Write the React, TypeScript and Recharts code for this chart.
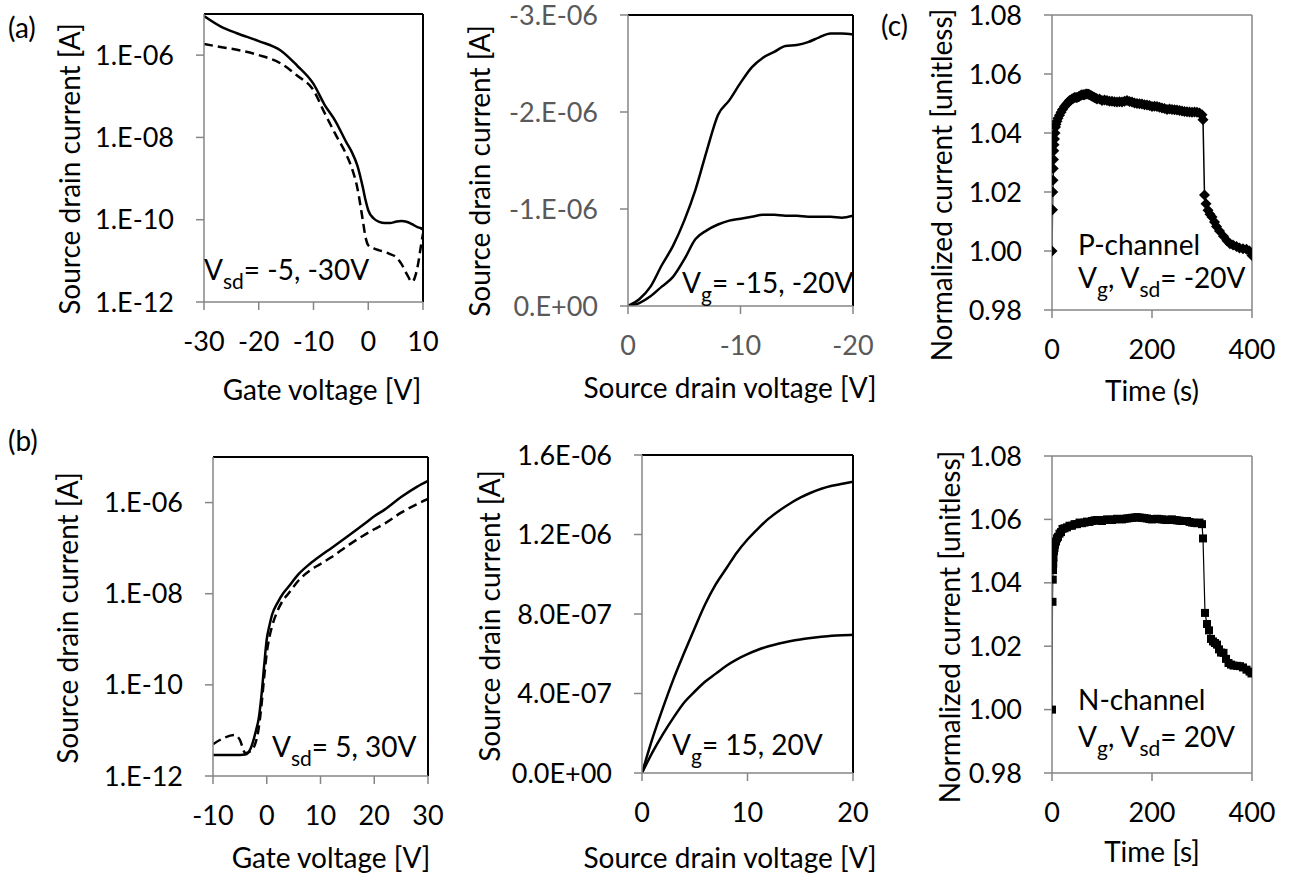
import React from "react";
import { Line, LineChart, ReferenceLine, XAxis, YAxis } from "recharts";

// (a) p-channel transfer curve, current in A (log axis)
const aGate = [-30, -27, -24, -20, -16, -13, -10, -8, -6, -4, -3, -2, -1, -0.5, 0, 1, 2, 3, 4, 5, 6, 7, 8, 9, 9.6, 10];
const aVsd30 = [8.9e-6, 5.0e-6, 3.4e-6, 2.2e-6, 1.3e-6, 5.6e-7, 2.0e-7, 6.3e-8, 2.5e-8, 7.6e-9, 4.4e-9, 2.1e-9, 6.2e-10, 3.0e-10, 1.7e-10, 1.07e-10, 8.9e-11, 8.3e-11, 8.3e-11, 8.9e-11, 9.3e-11, 8.9e-11, 7.8e-11, 6.6e-11, 6.2e-11, 5.8e-11];
const aVsd5 = [1.86e-6, 1.58e-6, 1.35e-6, 1.0e-6, 6.3e-7, 3.2e-7, 1.4e-7, 4.0e-8, 1.2e-8, 3.8e-9, 1.8e-9, 6.0e-10, 9.8e-11, 3.8e-11, 2.4e-11, 2.0e-11, 1.8e-11, 1.66e-11, 1.45e-11, 1.26e-11, 8.7e-12, 4.9e-12, 3.1e-12, 7.1e-12, 2.2e-11, 4.6e-11];

// (a) p-channel output curves
const aDrainV = [0, -1, -2, -3, -4, -5, -6, -7, -8, -9, -10, -11, -12, -13, -14, -15, -16, -17, -18, -19, -20];
const aVg20 = [0, -0.07e-6, -0.2e-6, -0.42e-6, -0.62e-6, -0.88e-6, -1.2e-6, -1.6e-6, -1.97e-6, -2.12e-6, -2.3e-6, -2.46e-6, -2.56e-6, -2.62e-6, -2.68e-6, -2.69e-6, -2.72e-6, -2.77e-6, -2.81e-6, -2.81e-6, -2.8e-6];
const aVg15 = [0, -0.03e-6, -0.1e-6, -0.2e-6, -0.3e-6, -0.48e-6, -0.69e-6, -0.78e-6, -0.84e-6, -0.88e-6, -0.9e-6, -0.92e-6, -0.94e-6, -0.94e-6, -0.93e-6, -0.93e-6, -0.92e-6, -0.92e-6, -0.92e-6, -0.91e-6, -0.93e-6];

// (b) n-channel transfer curve
const bGate = [-10, -8, -6, -5, -4, -3, -2, -1.5, -1, -0.5, 0, 0.5, 1, 2, 3, 4, 6, 8, 10, 12, 15, 18, 20, 22, 25, 28, 30];
const bVsd30 = [2.9e-12, 2.9e-12, 2.9e-12, 2.9e-12, 2.95e-12, 4.0e-12, 1.0e-11, 1.8e-11, 5.6e-11, 2.5e-10, 1.0e-9, 2.0e-9, 3.5e-9, 6.3e-9, 1.0e-8, 1.4e-8, 2.75e-8, 4.5e-8, 6.8e-8, 1.0e-7, 1.8e-7, 3.3e-7, 5.0e-7, 7.1e-7, 1.32e-6, 2.24e-6, 3.0e-6];
const bVsd5 = [5.0e-12, 6.8e-12, 7.9e-12, 6.2e-12, 3.2e-12, 3.5e-12, 5.8e-12, 1.12e-11, 3.4e-11, 1.4e-10, 5.0e-10, 1.12e-9, 1.95e-9, 4.2e-9, 7.1e-9, 1.0e-8, 2.0e-8, 3.2e-8, 4.5e-8, 6.3e-8, 1.12e-7, 1.9e-7, 2.6e-7, 3.5e-7, 6.0e-7, 9.3e-7, 1.2e-6];

// (b) n-channel output curves
const bDrainV = [0, 1, 2, 3, 4, 5, 6, 7, 8, 9, 10, 11, 12, 13, 14, 15, 16, 17, 18, 19, 20];
const bVg20 = [0, 1.75e-7, 3.3e-7, 4.75e-7, 6.05e-7, 7.3e-7, 8.5e-7, 9.5e-7, 10.3e-7, 11.1e-7, 11.75e-7, 12.3e-7, 12.8e-7, 13.2e-7, 13.55e-7, 13.85e-7, 14.1e-7, 14.3e-7, 14.45e-7, 14.55e-7, 14.65e-7];
const bVg15 = [0, 1.05e-7, 1.97e-7, 2.8e-7, 3.55e-7, 4.1e-7, 4.6e-7, 5.0e-7, 5.4e-7, 5.72e-7, 5.98e-7, 6.2e-7, 6.38e-7, 6.52e-7, 6.63e-7, 6.72e-7, 6.79e-7, 6.85e-7, 6.9e-7, 6.93e-7, 6.95e-7];

// (c) normalized current vs time, P-channel
const pTime = [0, 1, 1.5, 2, 2.5, 3, 3.5, 4, 5, 6, 7, 8, 10, 12, 15, 18, 21, 25, 28, 30, 33, 35, 38, 40, 43, 45, 48, 50, 53, 55, 58, 60, 63, 65, 68, 70, 73, 75, 78, 80, 83, 85, 88, 90, 95, 100, 105, 110, 115, 120, 125, 130, 135, 140, 145, 150, 155, 160, 165, 170, 175, 180, 185, 190, 195, 200, 205, 210, 215, 220, 225, 230, 235, 240, 245, 250, 255, 260, 265, 270, 275, 280, 285, 290, 295, 300, 302, 305, 308, 312, 316, 320, 325, 329, 335, 343, 350, 356, 362, 369, 375, 382, 389, 395, 400];
const pCurrent = [1.0, 1.014, 1.02, 1.024, 1.028, 1.031, 1.034, 1.036, 1.038, 1.04, 1.042, 1.043, 1.044, 1.045, 1.046, 1.047, 1.048, 1.049, 1.0495, 1.05, 1.0505, 1.051, 1.0512, 1.0515, 1.0518, 1.052, 1.052, 1.052, 1.0523, 1.0525, 1.0528, 1.053, 1.053, 1.053, 1.0532, 1.0532, 1.0531, 1.053, 1.0527, 1.0525, 1.0522, 1.052, 1.0518, 1.0515, 1.0515, 1.051, 1.0512, 1.051, 1.0508, 1.0508, 1.0506, 1.0505, 1.0506, 1.0505, 1.0508, 1.051, 1.0507, 1.0505, 1.0502, 1.05, 1.0499, 1.0498, 1.0496, 1.0495, 1.0493, 1.049, 1.0491, 1.049, 1.0487, 1.0485, 1.0483, 1.048, 1.0481, 1.048, 1.0479, 1.0478, 1.0476, 1.0475, 1.0473, 1.0472, 1.0471, 1.047, 1.0471, 1.047, 1.0468, 1.0462, 1.0445, 1.019, 1.016, 1.0138, 1.0125, 1.0115, 1.0098, 1.0083, 1.0068, 1.005, 1.0035, 1.0025, 1.002, 1.0015, 1.001, 1.0008, 1.0006, 1.0, 0.9985];

// (c) normalized current vs time, N-channel
const nTime = [0, 1, 1.5, 2, 2.5, 3, 4, 5, 6, 8, 10, 12, 15, 18, 21, 25, 30, 35, 40, 45, 50, 55, 60, 65, 70, 75, 80, 85, 90, 95, 100, 105, 110, 115, 120, 125, 130, 135, 140, 145, 150, 155, 160, 165, 170, 175, 180, 185, 190, 195, 200, 205, 210, 215, 220, 225, 230, 235, 240, 245, 250, 255, 260, 265, 270, 275, 280, 285, 290, 295, 300, 302, 306, 310, 314, 318, 322, 326, 330, 334, 338, 343, 348, 353, 358, 363, 370, 376, 382, 389, 395, 399];
const nCurrent = [1.0, 1.034, 1.041, 1.044, 1.046, 1.048, 1.05, 1.051, 1.052, 1.053, 1.054, 1.0545, 1.0555, 1.056, 1.057, 1.0572, 1.0575, 1.058, 1.058, 1.0585, 1.0585, 1.059, 1.0588, 1.059, 1.0593, 1.0592, 1.0595, 1.0597, 1.0598, 1.0596, 1.0595, 1.0598, 1.06, 1.0599, 1.0598, 1.06, 1.0602, 1.0601, 1.06, 1.0602, 1.0603, 1.0604, 1.0605, 1.0606, 1.0607, 1.0606, 1.0605, 1.0604, 1.0603, 1.0601, 1.06, 1.0601, 1.0602, 1.0601, 1.06, 1.0599, 1.0598, 1.0599, 1.06, 1.0598, 1.0597, 1.0596, 1.0595, 1.0595, 1.0595, 1.0592, 1.059, 1.0589, 1.0588, 1.059, 1.0585, 1.054, 1.0305, 1.027, 1.025, 1.0223, 1.0215, 1.021, 1.0205, 1.019, 1.018, 1.0179, 1.016, 1.0147, 1.0142, 1.0139, 1.0138, 1.0137, 1.0133, 1.0126, 1.012, 1.0114];

const AXIS = "#868686";
const FONT = "Lato, 'Open Sans', sans-serif";
const TICK_FS = 27;
const YW = 150;
const XH = 70;
const MT = 20;
const MR = 30;

type Box = { x0: number; y0: number; x1: number; y1: number };
type AxisSpec = {
  domain: [number, number];
  ticks: number[];
  reversed?: boolean;
  log?: boolean;
  fmt?: (v: number) => string;
};

const sci = (digits: number) => (v: number) => {
  const [m, e] = v.toExponential(digits).split("e");
  const sign = e[0] === "-" ? "-" : "+";
  const exp = e.replace(/^[+-]/, "").padStart(2, "0");
  return `${m}${digits === 0 ? "." : ""}E${sign}${exp}`;
};

const diamond = (p: any) => {
  const { cx, cy, index } = p;
  const r = 5.5;
  return (
    <path
      key={`d${index}`}
      d={`M${cx} ${cy - r}L${cx + r} ${cy}L${cx} ${cy + r}L${cx - r} ${cy}Z`}
      fill="#000"
    />
  );
};

const square = (p: any) => (
  <rect key={`s${p.index}`} x={p.cx - 4} y={p.cy - 4} width={8} height={8} fill="#000" />
);

function Panel(props: {
  box: Box;
  data: any[];
  x: AxisSpec;
  y: AxisSpec;
  tickColor?: string;
  frame: string;
  children: React.ReactNode;
}) {
  const { box, data, x, y, frame } = props;
  const tick = { fill: props.tickColor ?? "#000", fontSize: TICK_FS, fontFamily: FONT };
  const topY = y.reversed ? y.domain[0] : y.domain[1];
  const rightX = x.reversed ? x.domain[0] : x.domain[1];
  return (
    <div style={{ position: "absolute", left: box.x0 - YW, top: box.y0 - MT }}>
      <LineChart
        width={box.x1 - box.x0 + YW + MR}
        height={box.y1 - box.y0 + MT + XH}
        data={data}
        margin={{ top: MT, right: MR, left: 0, bottom: 0 }}
      >
        <XAxis
          dataKey="x"
          type="number"
          domain={x.domain}
          ticks={x.ticks}
          reversed={x.reversed}
          allowDataOverflow
          height={XH}
          tickSize={8}
          tickMargin={22}
          stroke={AXIS}
          strokeWidth={1.5}
          tick={tick}
          tickFormatter={x.fmt}
        />
        <YAxis
          type="number"
          scale={y.log ? "log" : "auto"}
          domain={y.domain}
          ticks={y.ticks}
          reversed={y.reversed}
          allowDataOverflow
          width={YW}
          tickSize={8}
          tickMargin={22}
          stroke={AXIS}
          strokeWidth={1.5}
          tick={tick}
          tickFormatter={y.fmt}
        />
        <ReferenceLine y={topY} stroke={frame} strokeWidth={frame === AXIS ? 1.5 : 2} />
        <ReferenceLine x={rightX} stroke={frame} strokeWidth={frame === AXIS ? 1.5 : 2} />
        {props.children}
      </LineChart>
    </div>
  );
}

const aTransfer = aGate.map((v, i) => ({ x: v, hi: aVsd30[i], lo: aVsd5[i] }));
const aOutput = aDrainV.map((v, i) => ({ x: v, hi: aVg20[i], lo: aVg15[i] }));
const bTransfer = bGate.map((v, i) => ({ x: v, hi: bVsd30[i], lo: bVsd5[i] }));
const bOutput = bDrainV.map((v, i) => ({ x: v, hi: bVg20[i], lo: bVg15[i] }));
const pData = pTime.map((t, i) => ({ x: t, y: pCurrent[i] }));
const nData = nTime.map((t, i) => ({ x: t, y: nCurrent[i] }));

const logY: AxisSpec = { domain: [1e-12, 1e-5], ticks: [1e-12, 1e-10, 1e-8, 1e-6], log: true, fmt: sci(0) };
const normY: AxisSpec = { domain: [0.98, 1.08], ticks: [0.98, 1.0, 1.02, 1.04, 1.06, 1.08], fmt: (v) => v.toFixed(2) };
const timeX: AxisSpec = { domain: [0, 400], ticks: [0, 200, 400] };

const solid = { stroke: "#000", strokeWidth: 2.5, dot: false, activeDot: false, isAnimationActive: false } as const;

// text with subscripts: parts alternate between normal and subscript runs
function Annot({ x, y, parts }: { x: number; y: number; parts: [string, boolean][] }) {
  let prevSub = false;
  return (
    <text x={x} y={y}>
      {parts.map(([s, sub], i) => {
        const dy = sub === prevSub ? 0 : sub ? 9 : -9;
        prevSub = sub;
        return (
          <tspan key={i} dy={dy} fontSize={sub ? 21 : 28}>
            {s}
          </tspan>
        );
      })}
    </text>
  );
}

export default function App() {
  return (
    <div style={{ position: "absolute", left: 0, top: 0, width: 1291, height: 882, background: "#fff", fontFamily: FONT }}>
      <Panel box={{ x0: 204, y0: 14, x1: 423, y1: 302 }} data={aTransfer} x={{ domain: [-30, 10], ticks: [-30, -20, -10, 0, 10] }} y={logY} frame="#000">
        <Line type="monotone" dataKey="hi" {...solid} />
        <Line type="monotone" dataKey="lo" {...solid} strokeDasharray="9 5" />
      </Panel>
      <Panel
        box={{ x0: 628, y0: 15, x1: 853, y1: 306 }}
        data={aOutput}
        x={{ domain: [-20, 0], ticks: [0, -10, -20], reversed: true }}
        y={{ domain: [-3e-6, 0], ticks: [-3e-6, -2e-6, -1e-6, 0], reversed: true, fmt: sci(0) }}
        tickColor="#595959"
        frame="#000"
      >
        <Line type="monotone" dataKey="hi" {...solid} />
        <Line type="monotone" dataKey="lo" {...solid} />
      </Panel>
      <Panel box={{ x0: 1052, y0: 15, x1: 1252, y1: 310 }} data={pData} x={timeX} y={normY} frame={AXIS}>
        <Line type="linear" dataKey="y" stroke="#000" strokeWidth={1.5} dot={diamond} activeDot={false} isAnimationActive={false} />
      </Panel>
      <Panel box={{ x0: 213, y0: 457, x1: 428, y1: 776 }} data={bTransfer} x={{ domain: [-10, 30], ticks: [-10, 0, 10, 20, 30] }} y={logY} frame="#000">
        <Line type="monotone" dataKey="hi" {...solid} />
        <Line type="monotone" dataKey="lo" {...solid} strokeDasharray="9 5" />
      </Panel>
      <Panel
        box={{ x0: 642, y0: 455, x1: 853, y1: 773 }}
        data={bOutput}
        x={{ domain: [0, 20], ticks: [0, 10, 20] }}
        y={{ domain: [0, 1.6e-6], ticks: [0, 4e-7, 8e-7, 1.2e-6, 1.6e-6], fmt: sci(1) }}
        frame="#000"
      >
        <Line type="monotone" dataKey="hi" {...solid} />
        <Line type="monotone" dataKey="lo" {...solid} />
      </Panel>
      <Panel box={{ x0: 1052, y0: 456, x1: 1252, y1: 773 }} data={nData} x={timeX} y={normY} frame={AXIS}>
        <Line type="linear" dataKey="y" stroke="#000" strokeWidth={1.2} dot={square} activeDot={false} isAnimationActive={false} />
      </Panel>

      <svg width={1291} height={882} style={{ position: "absolute", left: 0, top: 0, pointerEvents: "none" }} fontFamily={FONT} fill="#000">
        <g fontSize={28}>
          <text x={8} y={38}>(a)</text>
          <text x={8} y={451}>(b)</text>
          <text x={881} y={36}>(c)</text>
        </g>
        <g fontSize={28} textAnchor="middle">
          <text x={322} y={400}>Gate voltage [V]</text>
          <text x={730} y={398}>Source drain voltage [V]</text>
          <text x={1152} y={401}>Time (s)</text>
          <text x={331} y={868}>Gate voltage [V]</text>
          <text x={730} y={868}>Source drain voltage [V]</text>
          <text x={1152} y={862}>Time [s]</text>
          <text x={70} y={169} dy="0.35em" transform="rotate(-90 70 169)">Source drain current [A]</text>
          <text x={480} y={171} dy="0.35em" transform="rotate(-90 480 171)">Source drain current [A]</text>
          <text x={942} y={185} dy="0.35em" transform="rotate(-90 942 185)">Normalized current [unitless]</text>
          <text x={68} y={618} dy="0.35em" transform="rotate(-90 68 618)">Source drain current [A]</text>
          <text x={490} y={616} dy="0.35em" transform="rotate(-90 490 616)">Source drain current [A]</text>
          <text x={950} y={627} dy="0.35em" transform="rotate(-90 950 627)">Normalized current [unitless]</text>
        </g>
        <g fontSize={28}>
          <Annot x={204} y={280} parts={[["V", false], ["sd", true], ["= -5, -30V", false]]} />
          <Annot x={682} y={293} parts={[["V", false], ["g", true], ["= -15, -20V", false]]} />
          <text x={1078} y={255}>P-channel</text>
          <Annot x={1078} y={288} parts={[["V", false], ["g", true], [", V", false], ["sd", true], ["= -20V", false]]} />
          <Annot x={272} y={757} parts={[["V", false], ["sd", true], ["= 5, 30V", false]]} />
          <Annot x={672} y={755} parts={[["V", false], ["g", true], ["= 15, 20V", false]]} />
          <text x={1078} y={710}>N-channel</text>
          <Annot x={1078} y={747} parts={[["V", false], ["g", true], [", V", false], ["sd", true], ["= 20V", false]]} />
        </g>
      </svg>
    </div>
  );
}
